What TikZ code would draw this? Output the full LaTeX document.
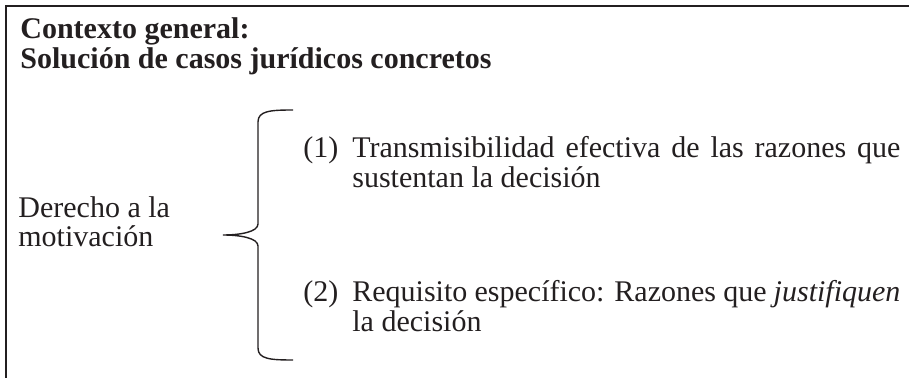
\documentclass[tikz,border=0pt]{standalone}
\usepackage{fontspec}
\setmainfont{Liberation Serif}
\usepackage{tikz}

\definecolor{ink}{RGB}{35,31,32}

\begin{document}
\begin{tikzpicture}
[x=0.5pt, y=-0.5pt,
 txt/.style={anchor=base west,inner sep=0pt,text=ink,font=\fontsize{15pt}{15pt}\selectfont},
 head/.style={txt,font=\fontsize{15pt}{15pt}\selectfont\bfseries},
 frame/.style={draw=ink,line width=1pt},
 brace/.style={draw=ink,line width=0.7pt}]
\useasboundingbox (0,0) rectangle (909,378);
% open frame: top and left side only
\draw[frame] (6,378) -- (6,6.5) -- (909,6.5);
\node[head] (ctx1) at ( 20, 39) {Contexto general:};
\node[head] (ctx2) at ( 20, 69) {Solución de casos jurídicos concretos};
\node[txt]  (der1) at ( 18,218) {Derecho a la};
\node[txt]  (der2) at ( 18,247) {motivación};
\coordinate (top) at (293,110);
\coordinate (tip) at (223,235);
\coordinate (bot) at (293,360);
\draw[brace] (top) .. controls (270,110) and (258,111) .. (258,122)
      -- (258,224) .. controls (258,232) and (240,235) .. (tip)
      .. controls (240,235) and (258,238) .. (258,246)
      -- (258,348) .. controls (258,359) and (270,360) .. (bot);
\node[txt]  (n1)   at (303,158) {(1)};
\node[txt]  (p1a)  at (352,158) {\makebox[274pt][s]{Transmisibilidad efectiva de las razones que}};
\node[txt]  (p1b)  at (352,188) {sustentan la decisión};
\node[txt]  (n2)   at (303,302) {(2)};
\node[txt]  (p2a)  at (352,302) {\makebox[274pt][s]{Requisito específico: Razones que \textit{justifiquen}}};
\node[txt]  (p2b)  at (352,332) {la decisión};
\end{tikzpicture}
\end{document}
